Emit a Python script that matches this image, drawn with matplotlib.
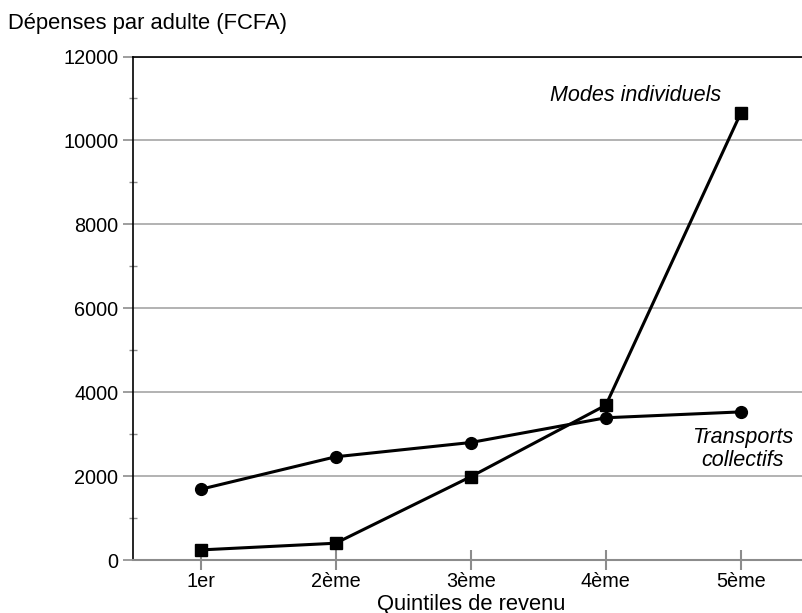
import matplotlib
matplotlib.use("Agg")
import matplotlib.pyplot as plt
from matplotlib.ticker import MultipleLocator

plt.rcParams['font.family'] = ['Liberation Sans', 'DejaVu Sans']

# Data
quintiles = ['1er', '2ème', '3ème', '4ème', '5ème']
modes_individuels = [240, 400, 1985, 3690, 10660]
transports_collectifs = [1685, 2460, 2800, 3390, 3530]

fig = plt.figure(figsize=(8.02, 6.13), dpi=100)
ax = fig.add_axes([133/802, 1 - 560/613, (808.5 - 133)/802, (560 - 56.5)/613])

x = range(len(quintiles))
ax.plot(x, modes_individuels, color='black', lw=2.2, marker='s', ms=8.5, zorder=3)
ax.plot(x, transports_collectifs, color='black', lw=2.2, marker='o', ms=8.5, zorder=3)

ax.set_xlim(-0.5, 4.5)
ax.set_ylim(0, 12000)
ax.set_xticks(list(x))
ax.set_xticklabels(quintiles)
ax.yaxis.set_major_locator(MultipleLocator(2000))
ax.yaxis.set_minor_locator(MultipleLocator(1000))

ax.grid(axis='y', color='#a6a6a6', lw=1.2)
ax.set_axisbelow(True)

ax.spines['right'].set_visible(False)
ax.spines['left'].set_color('black')
ax.spines['left'].set_linewidth(1.2)
ax.spines['top'].set_color('black')
ax.spines['top'].set_linewidth(1.2)
ax.spines['bottom'].set_color('#8c8c8c')
ax.spines['bottom'].set_linewidth(1.5)

ax.tick_params(axis='y', which='major', direction='out', length=7, color='#8c8c8c',
               width=1.2, labelsize=14.3, pad=3.5)
ax.tick_params(axis='y', which='minor', direction='inout', length=6, color='#8c8c8c', width=1)
ax.tick_params(axis='x', which='major', direction='inout', length=14, color='#8c8c8c',
               width=1.5, labelsize=14.3, pad=1.5)

ax.set_xlabel('Quintiles de revenu', fontsize=15.8, labelpad=2)
fig.text(8/802, 1 - 23/613, 'Dépenses par adulte (FCFA)', fontsize=15.8, va='center', ha='left')

ax.text(3.22, 11070, 'Modes individuels', fontsize=15.5, style='italic', ha='center', va='center')
ax.text(4.01, 2640, 'Transports\ncollectifs', fontsize=15.5, style='italic', ha='center',
        va='center', linespacing=1.12,
        bbox=dict(facecolor='white', edgecolor='none', pad=1))

fig.savefig('out.png', dpi=100)
